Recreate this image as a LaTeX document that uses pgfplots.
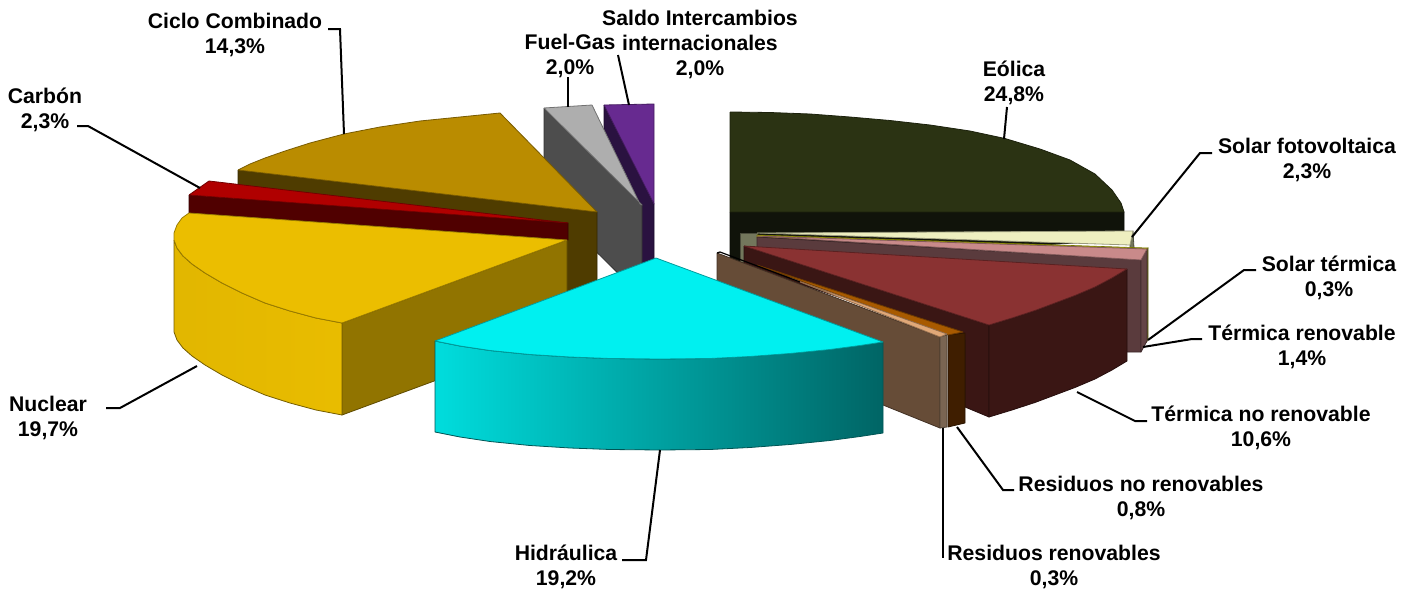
\documentclass[border=0pt]{standalone}
\usepackage{pgfplots}
\pgfplotsset{compat=1.18}
\usepackage{fontspec}
\setmainfont{Liberation Sans}

\definecolor{eolT}{HTML}{2B3313}\definecolor{eolF}{HTML}{10130A}
\definecolor{solT}{HTML}{EEEFC0}\definecolor{solF}{HTML}{73775C}
\definecolor{steT}{HTML}{A6A800}\definecolor{steF}{HTML}{5E5E14}
\definecolor{treT}{HTML}{C98A8A}\definecolor{treF}{HTML}{5A3B3D}\definecolor{treS}{HTML}{644446}
\definecolor{tnrT}{HTML}{8A3232}\definecolor{tnrF}{HTML}{3A1614}
\definecolor{rnrT}{HTML}{A85A00}\definecolor{rnrF}{HTML}{3F1E00}
\definecolor{rreT}{HTML}{E0A878}\definecolor{rreF}{HTML}{664C37}\definecolor{rreS}{HTML}{7A6552}
\definecolor{hidT}{HTML}{00F0F0}
\definecolor{nucT}{HTML}{EBBE00}\definecolor{nucF}{HTML}{917400}
\definecolor{carT}{HTML}{B00000}\definecolor{carF}{HTML}{500000}
\definecolor{cicT}{HTML}{BA8C00}\definecolor{cicF}{HTML}{4F3C00}
\definecolor{fueT}{HTML}{AEAEAE}\definecolor{fueF}{HTML}{4D4D4D}
\definecolor{salT}{HTML}{672A90}\definecolor{salF}{HTML}{2A1240}

\tikzset{
  face/.style={fill=#1, draw=#1!65!black, line width=0.4pt, line join=round},
  leader/.style={black, line width=1pt, line join=miter},
  lab/.style={align=center, inner sep=0pt, font=\fontsize{10.6}{12.5}\selectfont\bfseries}
}

\begin{document}
\begin{tikzpicture}
\begin{axis}[
  width=707.5pt, height=294.5pt, scale only axis,
  xmin=0, xmax=1415, ymin=0, ymax=589, y dir=reverse,
  hide axis, no markers, clip=false
]
% invisible frame, keeps the page at the full size of the picture
\addplot[draw=none] coordinates {(0,0) (1415,0) (1415,589) (0,589) (0,0)};

% Saldo Intercambios internacionales
\addplot[face=salF] coordinates {(604,105) (654,204) (654,297) (604,197) (604,105)};
\addplot[face=salT] coordinates {(604,105) (654,104) (654,204) (604,105)};
% Fuel-Gas
\addplot[face=fueF] coordinates {(544,108) (642,205) (642,297) (544,200) (544,108)};
\addplot[face=fueT] coordinates {(544,108) (592,105) (640,204) (642,205) (544,108)};
% Ciclo Combinado
\addplot[face=cicF] coordinates {(238,170) (597,212) (597,304) (560,310) (238,210) (238,170)};
\addplot[face=cicT] coordinates {(238,170) (250,164) (265,158) (285,151) (310,143) (344,134) (380,127) (420,121) (460,117) (500,113) (597,212) (238,170)};
% Carbon
\addplot[face=carF] coordinates {(189,195) (568,223) (568,240) (189,213) (189,195)};
\addplot[face=carT] coordinates {(189,195) (209,181) (568,223) (189,195)};
% Nuclear
\addplot[face=nucF] coordinates {(342,323) (567,240) (567,332) (342,415) (342,323)};
\addplot[left color=nucT!96!black, right color=nucT!99!black, draw=nucF!80!black, line width=0.4pt, line join=round]
  coordinates {(174,240) (177,248) (183,256) (192,264) (205,273) (222,283) (242,293) (265,303) (290,311) (316,318) (342,323)
               (342,415) (316,410) (290,403) (265,395) (242,385) (222,375) (205,365) (192,356) (183,348) (177,340) (174,332) (174,240)};
\addplot[face=nucT] coordinates {(567,240) (189,213) (182,218) (177,225) (174,233) (174,240) (177,248) (183,256) (192,264) (205,273) (222,283) (242,293) (265,303) (290,311) (316,318) (342,323) (567,240)};

% Eolica
\addplot[face=eolF] coordinates {(730,212) (1124,212) (1124,240) (760,262) (730,262) (730,212)};
\addplot[face=eolT] coordinates {(730,112) (770,112.5) (810,114) (850,117) (890,120.5) (930,125) (970,131) (1005,138.5) (1040,149) (1070,160) (1095,174) (1112,190) (1121,203) (1124,212) (730,212) (730,112)};
% Solar fotovoltaica
\addplot[face=solF] coordinates {(740,233) (757,233) (757,262) (740,262) (740,233)};
\addplot[face=solF] coordinates {(1130,245) (1133,231) (1134,248) (1130,248) (1130,245)};
\addplot[face=solT] coordinates {(757,233) (1133,231) (1130,245) (757,233)};
% Solar termica
\addplot[fill=steF, draw=steF, line width=0.3pt] coordinates {(1144,250) (1148,248) (1148,340) (1144,345) (1144,250)};
\addplot[fill=steT, draw=steT!70!black, line width=0.3pt] coordinates {(757,235) (1148,248) (1144,252) (757,237) (757,235)};
% Termica renovable
\addplot[face=treF] coordinates {(757,237) (1141,260) (1141,352) (1115,352) (757,252) (757,237)};
\addplot[face=treS] coordinates {(1141,260) (1147,249) (1147,341) (1141,352) (1141,260)};
\addplot[face=treT] coordinates {(757,236) (1147,249) (1141,260) (757,236)};
% Termica no renovable
\addplot[face=tnrF] coordinates {(744,246) (989,325) (989,417) (965,407) (965,340) (744,265) (744,246)};
\addplot[face=tnrF] coordinates {(1127,269) (1127,361) (1112,370) (1095,379) (1075,387.5) (1055,395) (1035,402.5) (1012,410) (989,417)
                                 (989,325) (1012,318) (1035,310.5) (1055,303) (1075,295.5) (1095,287) (1112,278) (1127,269)};
\addplot[face=tnrT] coordinates {(744,246) (1127,269) (1112,278) (1095,287) (1075,295.5) (1055,303) (1035,310.5) (1012,318) (989,325) (744,246)};
% Residuos no renovables
\addplot[face=rnrF] coordinates {(948,335) (965,333) (965,423) (948,427) (948,335)};
\addplot[face=rnrT] coordinates {(757,265) (963,332) (948,335) (757,265)};
% Residuos renovables
\addplot[face=rreF] coordinates {(717,253) (940,337) (940,428) (883,405) (717,340) (717,253)};
\addplot[face=rreS] coordinates {(940,337) (947,335) (947,427) (940,428) (940,337)};
\addplot[face=rreT] coordinates {(790,278) (947,334) (940,337) (790,278)};
\addplot[black, line width=0.6pt] coordinates {(717,253) (720,252) (800,282)};
% Hidraulica
\addplot[left color=hidT!92!black, right color=hidT!42!black, draw=hidT!35!black, line width=0.4pt, line join=round]
  coordinates {(435,341) (460,346) (490,350.5) (530,354.5) (570,357) (610,358.5) (660,359) (710,358.5) (750,356.5) (790,353.5) (830,349.5) (860,345.5) (883,342)
               (883,433) (860,436.5) (830,440.5) (790,444.5) (750,447.5) (710,449.5) (660,450) (610,449.5) (570,448) (530,445.5) (490,441.5) (460,437) (435,432) (435,341)};
\addplot[face=hidT] coordinates {(656,258) (883,342) (860,345.5) (830,349.5) (790,353.5) (750,356.5) (710,358.5) (660,359) (610,358.5) (570,357) (530,354.5) (490,350.5) (460,346) (435,341) (656,258)};

% leader lines
\addplot[leader] coordinates {(1004,139) (1007,107)};
\addplot[leader] coordinates {(1132,237) (1200,153) (1212,153)};
\addplot[leader] coordinates {(1148,340) (1244,270) (1256,270)};
\addplot[leader] coordinates {(1143,347) (1192,339) (1202,339)};
\addplot[leader] coordinates {(1077,392) (1135,421) (1147,421)};
\addplot[leader] coordinates {(957,427) (1003,490) (1014,490)};
\addplot[leader] coordinates {(943,428) (943,558)};
\addplot[leader] coordinates {(660,450) (646,560) (622,560)};
\addplot[leader] coordinates {(197,366) (120,408) (106,408)};
\addplot[leader] coordinates {(200,188) (88,126) (77,126)};
\addplot[leader] coordinates {(344,134) (340,29) (328,29)};
\addplot[leader] coordinates {(568,107) (568,77)};
\addplot[leader] coordinates {(629,105) (618,55)};

% labels
\node[lab] at (axis cs:1014,83)  {Eólica\\24,8\%};
\node[lab] at (axis cs:1307,160) {Solar fotovoltaica\\2,3\%};
\node[lab] at (axis cs:1329,278) {Solar térmica\\0,3\%};
\node[lab] at (axis cs:1302,347) {Térmica renovable\\1,4\%};
\node[lab] at (axis cs:1261,428) {Térmica no renovable\\10,6\%};
\node[lab] at (axis cs:1141,498) {Residuos no renovables\\0,8\%};
\node[lab] at (axis cs:1054,567) {Residuos renovables\\0,3\%};
\node[lab] at (axis cs:566,567)  {Hidráulica\\19,2\%};
\node[lab] at (axis cs:48,418)   {Nuclear\\19,7\%};
\node[lab] at (axis cs:45,110)   {Carbón\\2,3\%};
\node[lab] at (axis cs:235,35)   {Ciclo Combinado\\14,3\%};
\node[lab] at (axis cs:570,56)   {Fuel-Gas\\2,0\%};
\node[lab] at (axis cs:700,44)   {Saldo Intercambios\\internacionales\\2,0\%};
\end{axis}
\end{tikzpicture}
\end{document}
